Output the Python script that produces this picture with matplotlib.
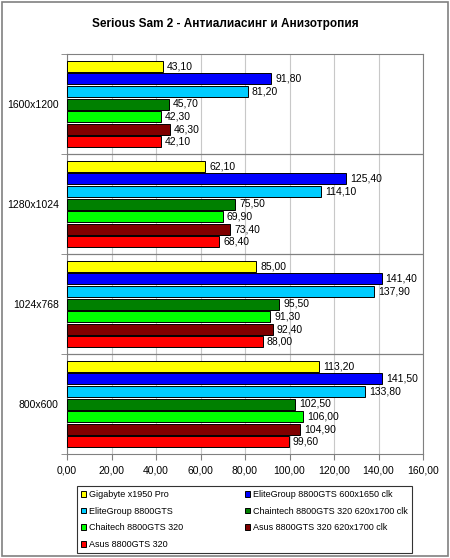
import numpy as np
import matplotlib.pyplot as plt
from matplotlib.patches import Rectangle

plt.rcParams['font.family'] = ['Liberation Sans', 'DejaVu Sans']

resolutions = ['800x600', '1024x768', '1280x1024', '1600x1200']
series = ['Gigabyte x1950 Pro', 'EliteGroup 8800GTS 600x1650 clk', 'EliteGroup 8800GTS',
          'Chaintech 8800GTS 320 620x1700 clk', 'Chaitech 8800GTS 320',
          'Asus 8800GTS 320 620x1700 clk', 'Asus 8800GTS 320']
colors = ['#FFFF00', '#0000FF', '#00CCFF', '#008000', '#00FF00', '#800000', '#FF0000']

# values per series, ordered as resolutions (800x600 ... 1600x1200)
gigabyte = [113.2, 85.0, 62.1, 43.1]
elite_clk = [141.5, 141.4, 125.4, 91.8]
elite = [133.8, 137.9, 114.1, 81.2]
chaintech_clk = [102.5, 95.5, 75.5, 45.7]
chaitech = [106.0, 91.3, 69.9, 42.3]
asus_clk = [104.9, 92.4, 73.4, 46.3]
asus = [99.6, 88.0, 68.4, 42.1]
data = [gigabyte, elite_clk, elite, chaintech_clk, chaitech, asus_clk, asus]
xticks = np.arange(0, 161, 20)

fig = plt.figure(figsize=(4.5, 5.58), dpi=100)
ax = fig.add_axes([67/450, 1-454/558, (423-67)/450, 400/558])

y = np.arange(len(resolutions))
pitch = 0.126
h = 0.11
handles = []
for i, (vals, c) in enumerate(zip(data, colors)):
    yy = y + (3 - i) * pitch
    b = ax.barh(yy, vals, height=h, color=c, edgecolor='black', linewidth=0.7,
                label=series[i], zorder=3)
    handles.append(b)
    for yv, v in zip(yy, vals):
        ax.text(v + 1.8, yv, f'{v:.2f}'.replace('.', ','), va='center', ha='left',
                fontsize=7.5, zorder=4)

ax.set_xlim(0, 160)
ax.set_ylim(-0.5, 3.5)
ax.set_xticks(xticks)
ax.set_xticklabels([f'{t:.2f}'.replace('.', ',') for t in xticks], fontsize=7.5)
ax.set_yticks(y)
ax.set_yticklabels(resolutions, fontsize=7.5)
ax.set_yticks(np.arange(-0.5, 3.6, 1), minor=True)
ax.tick_params(axis='y', which='major', length=0, pad=6)
ax.tick_params(axis='y', which='minor', length=4, color='#808080')
ax.tick_params(axis='x', length=4, color='#808080', pad=4)
ax.xaxis.grid(True, color='#C8C8C8', linewidth=0.8, zorder=0)
for s in np.arange(0.5, 3.0, 1):
    ax.axhline(s, color='#808080', linewidth=0.9, zorder=2)
for sp in ax.spines.values():
    sp.set_color('#808080')

fig.text(0.5, 1-24/558, 'Serious Sam 2 - Антиалиасинг и Анизотропия', ha='center',
         va='center', fontsize=8.5, fontweight='bold')

order = [0, 2, 4, 6, 1, 3, 5]
leg = fig.legend([handles[k] for k in order], [series[k] for k in order], ncol=2,
                 loc='upper left', bbox_to_anchor=(77/450, 1-486/558), borderaxespad=0,
                 fontsize=6.5, frameon=True, fancybox=False, handlelength=0.6,
                 handleheight=0.6, handletextpad=0.3, columnspacing=6.8,
                 labelspacing=0.85, borderpad=0.45)
leg.get_frame().set_edgecolor('black')
leg.get_frame().set_linewidth(0.8)

fig.patches.append(Rectangle((2/450, 2/558), 1-4/450, 1-4/558, transform=fig.transFigure,
                             fill=False, edgecolor='#808080', linewidth=1.2))

fig.savefig('out.png', dpi=100)
